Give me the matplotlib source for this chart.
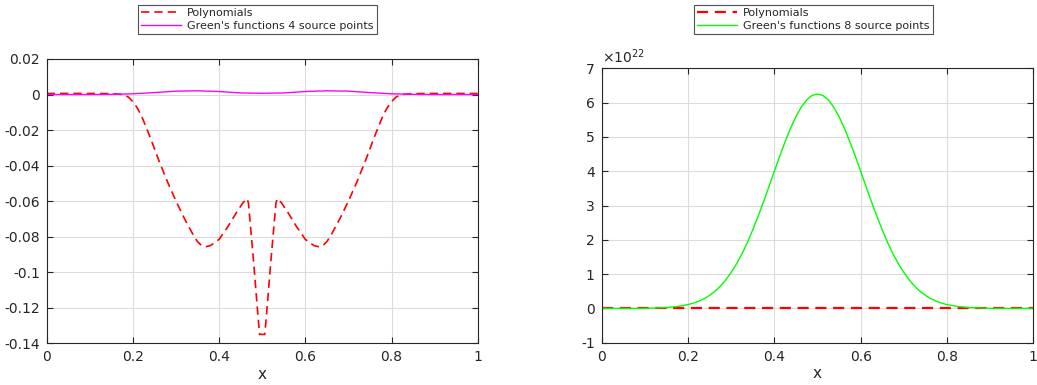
import matplotlib.pyplot as plt

# left panel: polynomial vs Green's functions (4 source points)
x_poly = [0.0, 0.05, 0.10, 0.15, 0.17, 0.18, 0.19, 0.20, 0.21, 0.22, 0.24, 0.26, 0.28,
          0.30, 0.32, 0.34, 0.35, 0.36, 0.37, 0.38, 0.40, 0.42, 0.44, 0.455, 0.465,
          0.468, 0.475, 0.48, 0.485, 0.49, 0.494, 0.50, 0.506, 0.51, 0.515, 0.52, 0.525,
          0.532, 0.535, 0.545, 0.56, 0.58, 0.60, 0.62, 0.63, 0.64, 0.65, 0.66, 0.68,
          0.70, 0.72, 0.74, 0.76, 0.78, 0.79, 0.80, 0.81, 0.82, 0.83, 0.85, 0.90, 0.95,
          1.0]
y_poly = [0.0006, 0.0006, 0.0006, 0.0005, 0.0002, -0.0003, -0.0015, -0.004, -0.0075,
          -0.012, -0.024, -0.037, -0.049, -0.060, -0.070, -0.079, -0.0828, -0.0852,
          -0.0856, -0.085, -0.0815, -0.0745, -0.0665, -0.061, -0.0586, -0.061, -0.080,
          -0.094, -0.109, -0.124, -0.135, -0.135, -0.135, -0.124, -0.109, -0.094, -0.080,
          -0.061, -0.0586, -0.061, -0.0665, -0.0745, -0.0815, -0.085, -0.0856, -0.0852,
          -0.0828, -0.079, -0.070, -0.060, -0.049, -0.037, -0.024, -0.012, -0.0075,
          -0.004, -0.0015, -0.0003, 0.0002, 0.0005, 0.0006, 0.0006, 0.0006]

x_green4 = [0.0, 0.10, 0.15, 0.20, 0.25, 0.30, 0.35, 0.40, 0.45, 0.50, 0.55, 0.60,
            0.65, 0.70, 0.75, 0.80, 0.85, 0.90, 1.0]
y_green4 = [0.0, 0.0, 0.0001, 0.0004, 0.0011, 0.0019, 0.0021, 0.0017, 0.0009, 0.0007,
            0.0009, 0.0017, 0.0021, 0.0019, 0.0011, 0.0004, 0.0001, 0.0, 0.0]

# right panel: polynomial vs Green's functions (8 source points)
x_poly8 = [0.0, 0.25, 0.5, 0.75, 1.0]
y_poly8 = [0.0, 0.0, 0.0, 0.0, 0.0]

x_green8 = [0.0, 0.10, 0.15, 0.175, 0.20, 0.2125, 0.225, 0.2375, 0.25, 0.2625, 0.275,
            0.2875, 0.30, 0.3125, 0.325, 0.3375, 0.35, 0.3625, 0.375, 0.3875, 0.40,
            0.4125, 0.425, 0.4375, 0.45, 0.4625, 0.475, 0.4875, 0.50, 0.5125, 0.525,
            0.5375, 0.55, 0.5625, 0.575, 0.5875, 0.60, 0.6125, 0.625, 0.6375, 0.65,
            0.6625, 0.675, 0.6875, 0.70, 0.7125, 0.725, 0.7375, 0.75, 0.7625, 0.775,
            0.7875, 0.80, 0.825, 0.85, 0.90, 1.0]
y_green8 = [0.0, 0.001e22, 0.026e22, 0.056e22, 0.11e22, 0.155e22, 0.21e22, 0.285e22,
            0.38e22, 0.50e22, 0.65e22, 0.83e22, 1.05e22, 1.30e22, 1.59e22, 1.92e22,
            2.29e22, 2.69e22, 3.11e22, 3.55e22, 4.00e22, 4.44e22, 4.86e22, 5.25e22,
            5.59e22, 5.87e22, 6.08e22, 6.21e22, 6.25e22, 6.21e22, 6.08e22, 5.87e22,
            5.59e22, 5.25e22, 4.86e22, 4.44e22, 4.00e22, 3.55e22, 3.11e22, 2.69e22,
            2.29e22, 1.92e22, 1.59e22, 1.30e22, 1.05e22, 0.83e22, 0.65e22, 0.50e22,
            0.38e22, 0.285e22, 0.21e22, 0.155e22, 0.11e22, 0.056e22, 0.026e22,
            0.001e22, 0.0]

x_ticks = [0, 0.2, 0.4, 0.6, 0.8, 1]
x_ticklabels = ['0', '0.2', '0.4', '0.6', '0.8', '1']
y1_ticks = [0.02, 0, -0.02, -0.04, -0.06, -0.08, -0.1, -0.12, -0.14]
y1_ticklabels = ['0.02', '0', '-0.02', '-0.04', '-0.06', '-0.08', '-0.1', '-0.12', '-0.14']
y2_ticks = [-1e22, 0, 1e22, 2e22, 3e22, 4e22, 5e22, 6e22, 7e22]
y2_ticklabels = ['-1', '0', '1', '2', '3', '4', '5', '6', '7']

plt.rcParams['font.family'] = 'DejaVu Sans'
plt.rcParams['axes.unicode_minus'] = False
txt = '#262626'

fig = plt.figure(figsize=(10.37, 3.85), dpi=100)
W, H = 1037, 385
ax1 = fig.add_axes([46.7 / W, (H - 343.3) / H, 431 / W, (343.3 - 59) / H])
ax2 = fig.add_axes([601.7 / W, (H - 342.7) / H, 431.6 / W, (342.7 - 68.3) / H])

l1, = ax1.plot(x_poly, y_poly, '--', color='r', lw=1.2, dashes=(5, 3), label='Polynomials')
l2, = ax1.plot(x_green4, y_green4, '-', color='#ff00ff', lw=1.0,
               label="Green's functions 4 source points")
ax1.set_xlim(0, 1)
ax1.set_ylim(-0.14, 0.02)
ax1.set_yticks(y1_ticks)
ax1.set_yticklabels(y1_ticklabels)

r1, = ax2.plot(x_poly8, y_poly8, '--', color='r', lw=1.6, dashes=(5, 3), label='Polynomials')
r2, = ax2.plot(x_green8, y_green8, '-', color='#00ff00', lw=1.0,
               label="Green's functions 8 source points")
ax2.set_xlim(0, 1)
ax2.set_ylim(-1e22, 7e22)
ax2.set_yticks(y2_ticks)
ax2.set_yticklabels(y2_ticklabels)
ax2.text(0.0, 1.01, r'$\times10^{22}$', transform=ax2.transAxes, ha='left', va='bottom',
         fontsize=10, color=txt)

for ax in (ax1, ax2):
    ax.set_xticks(x_ticks)
    ax.set_xticklabels(x_ticklabels)
    ax.grid(True, color='#dcdcdc', lw=0.8)
    ax.set_axisbelow(True)
    ax.tick_params(direction='in', top=True, right=True, labelsize=10, colors=txt,
                   length=4, pad=5)
    for s in ax.spines.values():
        s.set_color(txt)
        s.set_linewidth(0.8)
    ax.set_xlabel('x', fontsize=11, color=txt, labelpad=2)

leg1 = fig.legend(handles=[l1, l2], loc='upper left', bbox_to_anchor=(138 / W, 1 - 5 / H),
                  fontsize=8, handlelength=3.6, frameon=True, fancybox=False,
                  borderpad=0.3, labelspacing=0.2, handletextpad=0.5, borderaxespad=0)
leg2 = fig.legend(handles=[r1, r2], loc='upper left', bbox_to_anchor=(694 / W, 1 - 5 / H),
                  fontsize=8, handlelength=3.6, frameon=True, fancybox=False,
                  borderpad=0.3, labelspacing=0.2, handletextpad=0.5, borderaxespad=0)
for lg in (leg1, leg2):
    lg.get_frame().set_edgecolor(txt)
    lg.get_frame().set_linewidth(0.8)
    for t in lg.get_texts():
        t.set_color(txt)

fig.savefig('out.png', dpi=100)
